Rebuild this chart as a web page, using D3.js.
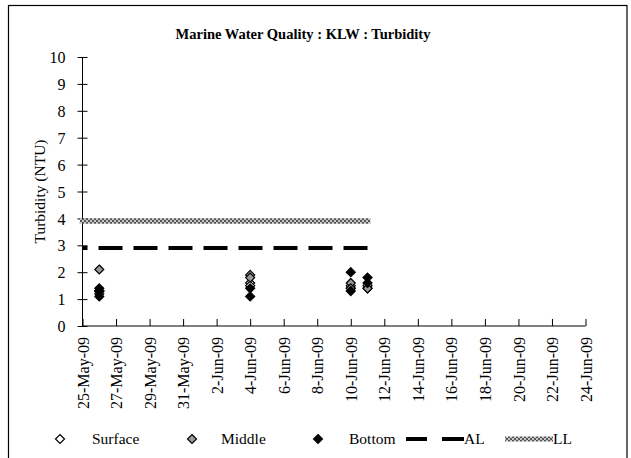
<!DOCTYPE html>
<html>
<head>
<meta charset="utf-8">
<script src="https://cdn.jsdelivr.net/npm/d3@7"></script>
<style>
  html, body { margin: 0; padding: 0; background: #fff; }
  svg text { font-family: "Liberation Serif", "Times New Roman", serif; fill: #000; }
</style>
</head>
<body>
<svg id="chart" width="631" height="458"></svg>
<script>
// ---- data ----
const titleText = "Marine Water Quality : KLW : Turbidity";
const yAxisTitle = "Turbidity (NTU)";
const xDomain = ["2009-05-25", "2009-06-24"];
const xTickLabels = ["25-May-09", "27-May-09", "29-May-09", "31-May-09", "2-Jun-09", "4-Jun-09", "6-Jun-09", "8-Jun-09",
                     "10-Jun-09", "12-Jun-09", "14-Jun-09", "16-Jun-09", "18-Jun-09", "20-Jun-09", "22-Jun-09", "24-Jun-09"];
const yTicks = [0, 1, 2, 3, 4, 5, 6, 7, 8, 9, 10];

const surfaceDates  = ["2009-05-26", "2009-05-26", "2009-06-04", "2009-06-04", "2009-06-10", "2009-06-10", "2009-06-11", "2009-06-11"];
const surfaceValues = [1.2, 1.3, 1.6, 1.5, 1.5, 1.4, 1.4, 1.5];
const middleDates   = ["2009-05-26", "2009-05-26", "2009-06-04", "2009-06-04", "2009-06-10", "2009-06-10", "2009-06-11"];
const middleValues  = [2.1, 1.3, 1.9, 1.8, 1.6, 1.4, 1.4];
const bottomDates   = ["2009-05-26", "2009-05-26", "2009-05-26", "2009-06-04", "2009-06-04", "2009-06-10", "2009-06-10", "2009-06-11", "2009-06-11"];
const bottomValues  = [1.4, 1.3, 1.1, 1.4, 1.1, 2.0, 1.3, 1.8, 1.6];
const limitDates    = ["2009-05-25", "2009-06-11"];
const alValues      = [2.9, 2.9];
const llValues      = [3.9, 3.9];
const legendLabels  = ["Surface", "Middle", "Bottom", "AL", "LL"];

// ---- setup ----
const parse = d3.timeParse("%Y-%m-%d");
const parseLabel = d3.timeParse("%d-%b-%y");
const svg = d3.select("#chart");
const m = { left: 82.5, right: 585.5, top: 57, bottom: 326 };

// outer frame
svg.append("rect").attr("x", 8.5).attr("y", 5.5).attr("width", 618.5).attr("height", 470)
  .attr("fill", "none").attr("stroke", "#000").attr("stroke-width", 1.2);

const x = d3.scaleTime().domain(xDomain.map(parse)).range([m.left, m.right]);
const y = d3.scaleLinear().domain([0, 10]).range([m.bottom, m.top]);

// pattern for LL
const defs = svg.append("defs");
const pat = defs.append("pattern").attr("id", "hatch").attr("patternUnits", "userSpaceOnUse")
  .attr("width", 4).attr("height", 4);
pat.append("rect").attr("width", 4).attr("height", 4).attr("fill", "#c8c8c8");
pat.append("rect").attr("width", 2).attr("height", 2).attr("fill", "#555");
pat.append("rect").attr("x", 2).attr("y", 2).attr("width", 2).attr("height", 2).attr("fill", "#555");

// title
svg.append("text").attr("x", 303).attr("y", 39).attr("text-anchor", "middle")
  .attr("font-size", 14.5).attr("font-weight", "bold").text(titleText);

// y axis
const yAxis = d3.axisLeft(y).tickValues(yTicks).tickSize(5).tickPadding(12).tickFormat(d3.format("d"));
const gy = svg.append("g").attr("transform", `translate(${m.left},0)`).call(yAxis);
gy.select(".domain").attr("stroke", "#000").attr("d", `M0,${m.top}V${m.bottom}`);
gy.selectAll(".tick line").attr("x1", -5).attr("x2", 5).attr("stroke", "#000");
gy.selectAll(".tick text").attr("font-size", 16).attr("font-family", "Liberation Serif").attr("dy", "0.35em");

// x axis
const xTicks = xTickLabels.map(parseLabel);
const xAxis = d3.axisBottom(x).tickValues(xTicks).tickSize(0).tickFormat((d, i) => xTickLabels[i]);
const gx = svg.append("g").attr("transform", `translate(0,${m.bottom})`).call(xAxis);
gx.select(".domain").attr("stroke", "#000").attr("d", `M${m.left},0H${m.right}`);
gx.selectAll(".tick line").attr("y1", 0).attr("y2", -7).attr("stroke", "#000");
gx.selectAll(".tick text")
  .attr("font-size", 16).attr("font-family", "Liberation Serif")
  .attr("transform", "rotate(-90)")
  .attr("text-anchor", "end")
  .attr("x", -11).attr("y", 0).attr("dy", "0.35em");

// y axis title
svg.append("text").attr("transform", `translate(45,${(m.top + m.bottom) / 2}) rotate(-90)`)
  .attr("text-anchor", "middle").attr("font-size", 15.5).text(yAxisTitle);

// limit lines
const lim = d3.line().x(d => x(d[0])).y(d => y(d[1]));
const llData = limitDates.map((d, i) => [parse(d), llValues[i]]);
const alData = limitDates.map((d, i) => [parse(d), alValues[i]]);
svg.append("path").attr("d", lim(llData)).attr("fill", "none")
  .attr("stroke", "url(#hatch)").attr("stroke-width", 5.5).attr("stroke-linecap", "square");
svg.append("path").attr("d", lim(alData)).attr("fill", "none")
  .attr("stroke", "#000").attr("stroke-width", 4).attr("stroke-dasharray", "24,11").attr("stroke-dashoffset", 19);

// markers
const diamond = r => `M0,${-r}L${r},0L0,${r}L${-r},0Z`;
function drawSeries(dates, values, fill) {
  svg.append("g").selectAll("path").data(dates.map((d, i) => [parse(d), values[i]]))
    .join("path")
    .attr("d", diamond(4.5))
    .attr("transform", d => `translate(${x(d[0])},${y(d[1])})`)
    .attr("fill", fill).attr("stroke", "#000").attr("stroke-width", 1.2);
}
drawSeries(surfaceDates, surfaceValues, "#fff");
drawSeries(middleDates, middleValues, "#999");
drawSeries(bottomDates, bottomValues, "#000");

// legend
const ly = 439;
const lg = svg.append("g");
const symX = [60, 192, 318];
const txtX = [92, 221, 349];
const fills = ["#fff", "#999", "#000"];
for (let i = 0; i < 3; i++) {
  lg.append("path").attr("d", diamond(4.5)).attr("transform", `translate(${symX[i]},${ly})`)
    .attr("fill", fills[i]).attr("stroke", "#000").attr("stroke-width", 1.2);
  lg.append("text").attr("x", txtX[i]).attr("y", ly).attr("dy", "0.35em").attr("font-size", 15.5).text(legendLabels[i]);
}
lg.append("line").attr("x1", 406).attr("x2", 427).attr("y1", ly).attr("y2", ly).attr("stroke", "#000").attr("stroke-width", 4);
lg.append("line").attr("x1", 442).attr("x2", 464).attr("y1", ly).attr("y2", ly).attr("stroke", "#000").attr("stroke-width", 4);
lg.append("text").attr("x", 464).attr("y", ly).attr("dy", "0.35em").attr("font-size", 15.5).text(legendLabels[3]);
lg.append("line").attr("x1", 505).attr("x2", 553).attr("y1", ly).attr("y2", ly).attr("stroke", "url(#hatch)").attr("stroke-width", 5);
lg.append("text").attr("x", 553).attr("y", ly).attr("dy", "0.35em").attr("font-size", 15.5).text(legendLabels[4]);
</script>
</body>
</html>
